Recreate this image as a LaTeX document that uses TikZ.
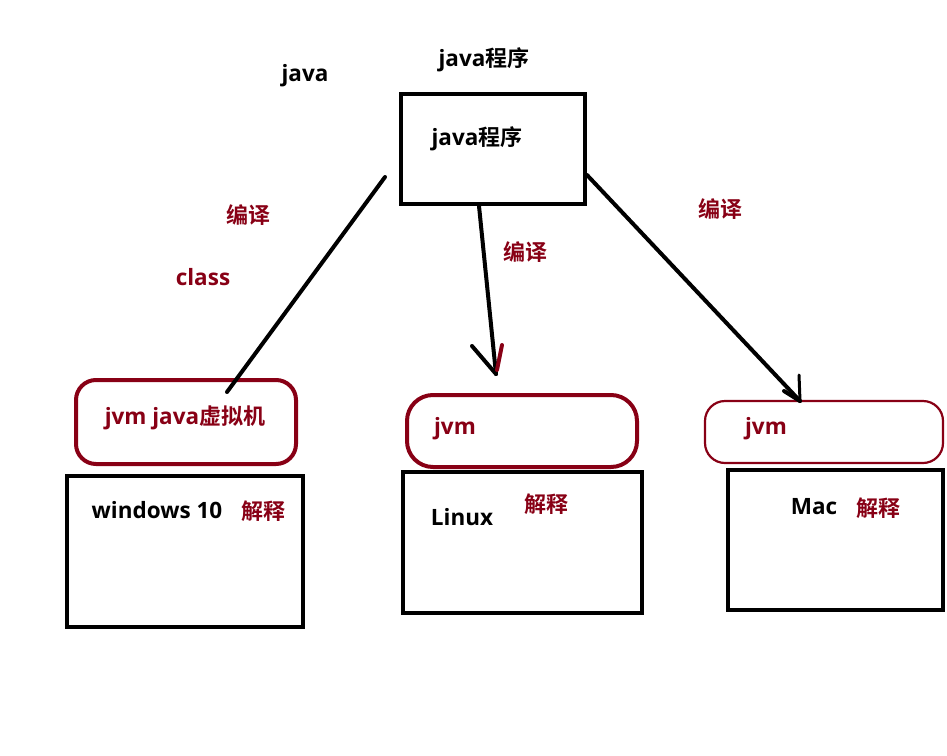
\documentclass[tikz,border=0pt]{standalone}
\usepackage{fontspec}
\setmainfont{Open Sans}
\newfontfamily\cjk{Noto Sans CJK SC}[BoldFont={Noto Sans CJK SC Bold}]
\definecolor{jred}{RGB}{136,0,21}
\tikzset{
  lbl/.style={font=\fontsize{22.5}{26}\selectfont\bfseries, inner sep=0pt, text=black},
  rlbl/.style={lbl, text=jred},
  blk/.style={draw=black, line width=4.5pt, minimum width=#1, inner sep=0pt},
  rbox/.style={draw=jred, line width=4pt, rounded corners=20pt, inner sep=0pt},
  conn/.style={draw=black, line width=4pt, line cap=round},
}
\newcommand{\zh}[1]{{\cjk\bfseries\fontsize{22}{26}\selectfont #1}}
\begin{document}
\begin{tikzpicture}[x=1pt, y=-1pt]
\useasboundingbox (0,0) rectangle (947,755);
% texts at top
\node[lbl] (tjava) at (305,76) {java};
\node[lbl] (tjp) at (484,60) {java\zh{程序}};
% top box
\node[blk=184pt, minimum height=110pt] (top) at (493,149) {};
\node[lbl] (topt) at (477,139) {java\zh{程序}};
% labels
\node[rlbl] (c1) at (248,215) {\zh{编译}};
\node[rlbl] (cls) at (203,277) {class};
\node[rlbl] (c2) at (525,252) {\zh{编译}};
\node[rlbl] (c3) at (720,209) {\zh{编译}};
% jvm boxes
\node[rbox, minimum width=220pt, minimum height=84pt] (jvm1) at (186,422) {};
\node[rlbl] (jvm1t) at (185,418) {jvm java\zh{虚拟机}};
\node[rbox, rounded corners=26pt, minimum width=230pt, minimum height=72pt] (jvm2) at (522,431) {};
\node[rlbl] (jvm2t) at (455,429) {jvm};
\node[rbox, line width=2.2pt, minimum width=238pt, minimum height=62pt] (jvm3) at (824,432) {};
\node[rlbl] (jvm3t) at (766,429) {jvm};
% OS boxes
\node[blk=236pt, minimum height=151pt] (win) at (185,551.5) {};
\node[lbl] (wint) at (157,510) {windows 10};
\node[rlbl] (win2) at (263,511) {\zh{解释}};
\node[blk=239pt, minimum height=141pt] (lin) at (522.5,542.5) {};
\node[lbl] (lint) at (462,517) {Linux};
\node[rlbl] (lin2) at (546,504) {\zh{解释}};
\node[blk=215pt, minimum height=140pt] (mac) at (835.5,540) {};
\node[lbl] (mact) at (814,507) {Mac};
\node[rlbl] (mac2) at (878,508) {\zh{解释}};
% connectors
\coordinate (l1a) at (385,177);
\coordinate (l1b) at (227,392);
\draw[conn] (l1a) -- (l1b);
\coordinate (l2a) at (479,206);
\coordinate (l2b) at (496,374);
\coordinate (l2c) at (472,346);
\coordinate (l2d) at (502,345);
\coordinate (l2e) at (497,370);
\draw[conn] (l2a) -- (l2b);
\draw[conn] (l2c) -- (l2b);
\draw[conn, draw=jred] (l2d) -- (l2e);
\coordinate (l3a) at (587,175);
\coordinate (l3b) at (800,401);
\coordinate (l3c) at (784,391);
\coordinate (l3d) at (799,375);
\draw[conn] (l3a) -- (l3b);
\draw[conn] (l3c) -- (l3b);
\draw[conn, line width=3pt] (l3d) -- (l3b);
\end{tikzpicture}
\end{document}
